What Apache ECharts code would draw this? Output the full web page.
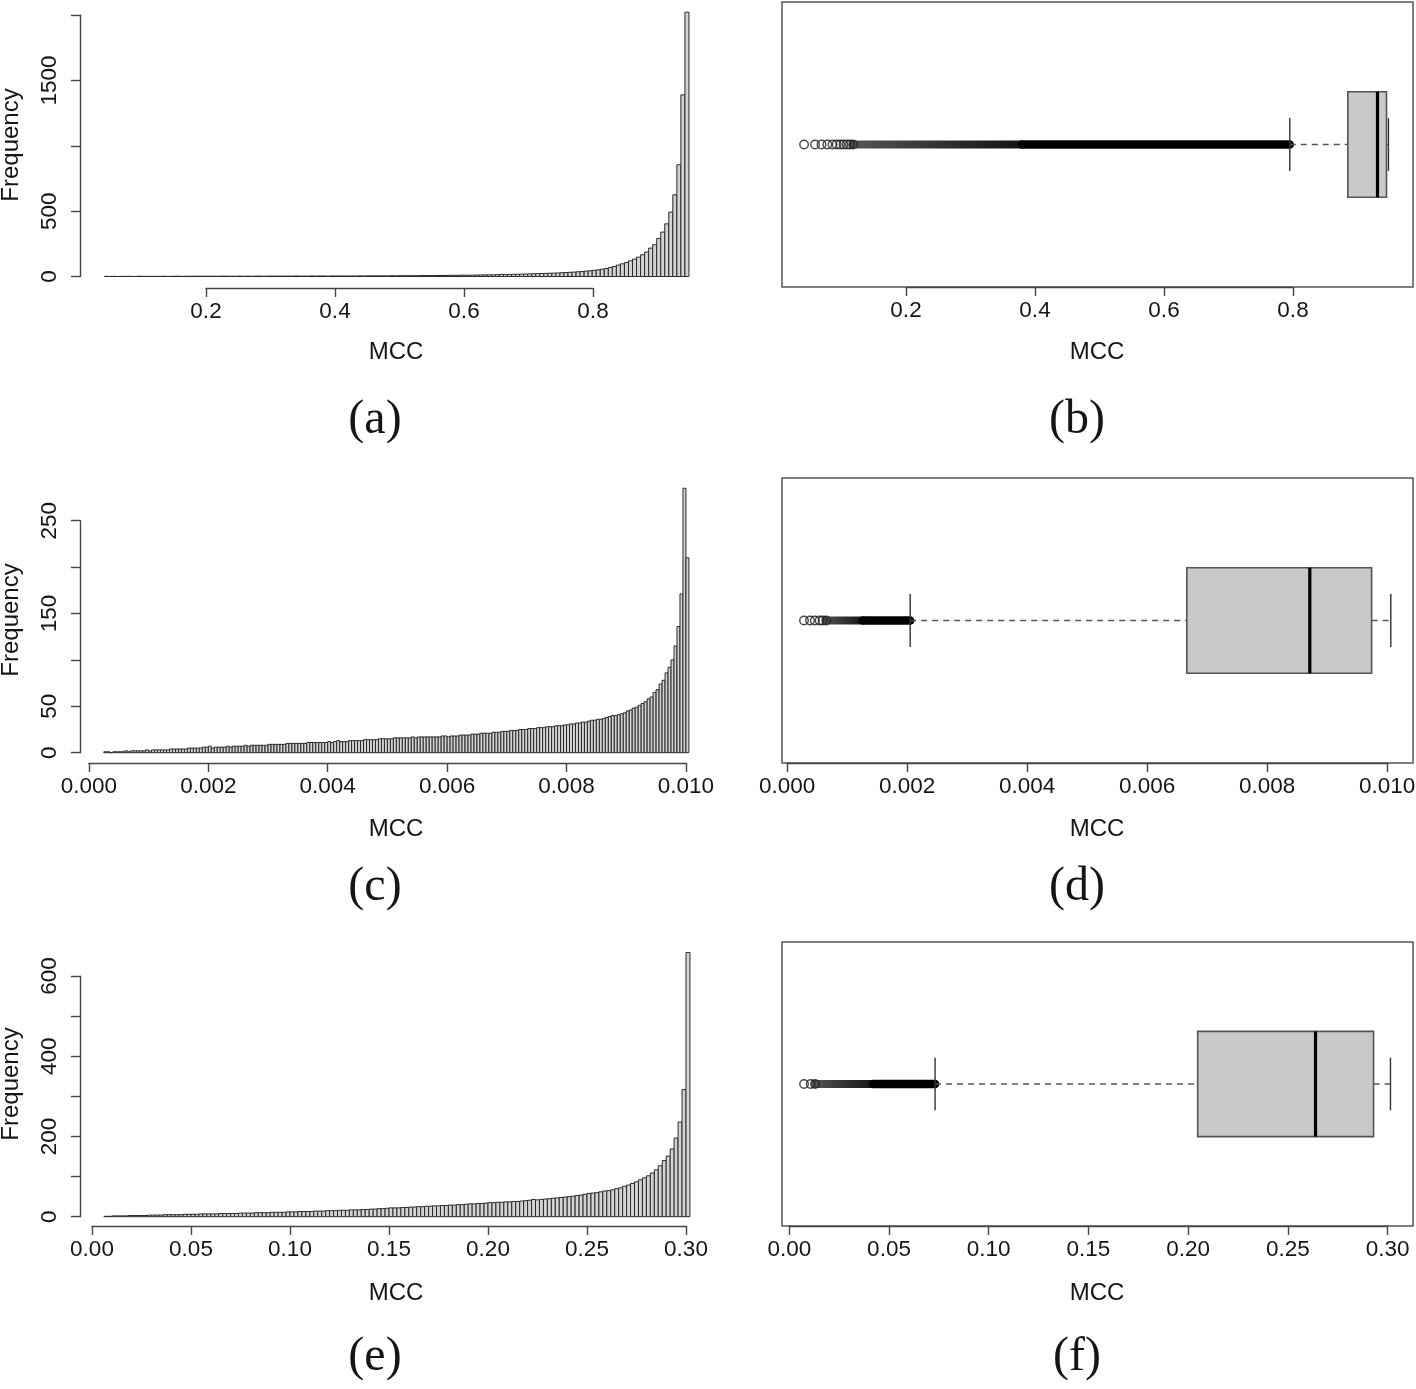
<!DOCTYPE html>
<html><head><meta charset="utf-8">
<script src="https://cdn.jsdelivr.net/npm/echarts@6/dist/echarts.min.js"></script>
<style>html,body{margin:0;padding:0;background:#fff}#c{width:1416px;height:1389px}</style>
</head><body><div id="c"></div>
<script>
// ================= DATA =================
// (a) histogram of MCC
const histA_start = 0.0425;
const histA_binWidth = 0.00625;
const histA_counts = [
 1,0,1,0,1,1,1,0,2,1,1,1,1,
 1,2,1,1,2,2,1,2,2,2,2,2,
 2,2,2,2,3,2,2,2,3,2,3,2,3,3,2,3,
 3,3,3,3,3,3,4,3,3,3,4,3,4,4,3,4,
 4,4,4,4,4,4,5,4,5,5,5,5,5,5,6,5,
 6,6,6,6,6,7,7,7,7,8,8,8,9,9,9,10,
 10,10,11,11,12,12,13,13,14,15,15,16,17,17,18,19,
 20,21,22,23,24,25,26,27,29,30,32,34,36,38,41,44,
 47,51,56,61,69,77,87,97,107,120,133,148,166,187,217,243,291,340,403,493,625,855,1390,2023
];
// (c) histogram
const histC_start = 0.00025;
const histC_binWidth = 0.00005;
const histC_counts = [
 1,1,0,1,1,1,1,2,1,2,2,2,2,2,3,
 2,3,3,3,3,3,3,4,4,4,4,4,4,5,5,5,5,5,6,6,
 7,5,6,6,6,6,7,6,7,7,7,7,8,7,8,8,8,8,8,8,
 9,9,9,9,9,9,10,10,10,10,10,10,10,11,11,11,11,11,11,11,
 12,11,12,13,12,12,12,13,13,13,13,13,14,14,14,14,14,15,15,15,
 15,15,16,16,16,16,16,16,17,16,17,17,17,17,17,17,17,17,18,18,
 17,18,18,18,19,19,19,19,20,20,20,21,21,21,21,22,22,22,23,23,
 23,24,24,24,25,25,25,26,26,26,27,27,27,28,28,28,29,29,29,30,
 30,31,31,32,32,33,33,34,35,35,36,36,37,38,39,40,40,41,42,43,45,
 46,48,49,51,53,55,58,60,65,68,74,78,86,92,100,115,136,171,285,210
];
// (e) histogram
const histE_start = 0.006;
const histE_binWidth = 0.002;
const histE_counts = [
 1,1,2,2,2,2,3,3,3,3,3,4,4,4,4,5,5,5,5,5,6,6,
 6,6,7,7,7,7,7,8,8,8,8,8,9,9,9,9,10,10,10,10,11,11,11,11,12,
 12,12,13,13,13,13,14,14,14,15,15,15,16,16,16,17,17,17,18,18,19,19,20,20,21,
 22,22,22,23,23,24,24,25,25,26,26,27,27,28,28,29,29,30,30,31,32,32,33,33,34,
 35,35,36,36,37,37,38,38,39,40,41,43,42,43,44,45,46,47,48,49,50,51,53,54,56,
 58,59,60,62,64,65,67,70,72,76,79,83,87,92,97,102,109,117,127,140,151,169,196,236,317,659
];

// box plots: [lower whisker, Q1, median, Q3, upper whisker]
const boxB = [0.795, 0.885, 0.931, 0.945, 0.948];
const boxD = [0.00205, 0.00666, 0.00871, 0.00974, 0.01006];
const boxF = [0.0731, 0.2048, 0.2639, 0.2930, 0.3015];
// individually visible outliers
const outliersB = [0.042, 0.059, 0.069, 0.078, 0.086, 0.0925, 0.098, 0.103, 0.108, 0.113, 0.118];
const outliersD = [0.00028, 0.00038, 0.00046, 0.00054, 0.00059, 0.00065];
const outliersF = [0.0074, 0.0107, 0.0129];
// dense outlier run: [start of chain, start of solid run, end (= lower whisker)]
const denseB = [0.118, 0.38, 0.795];
const denseD = [0.00065, 0.00126, 0.00205];
const denseF = [0.0129, 0.042, 0.0731];

// tick values and labels
const xTicksA = [0.2, 0.4, 0.6, 0.8];
const xLabelsA = ['0.2', '0.4', '0.6', '0.8'];
const yTicksA = [0, 500, 1000, 1500, 2000];
const yLabelsA = ['0', '500', '', '1500', ''];
const xTicksC = [0, 0.002, 0.004, 0.006, 0.008, 0.010];
const xLabelsC = ['0.000', '0.002', '0.004', '0.006', '0.008', '0.010'];
const yTicksC = [0, 50, 100, 150, 200, 250];
const yLabelsC = ['0', '50', '', '150', '', '250'];
const xTicksE = [0, 0.05, 0.10, 0.15, 0.20, 0.25, 0.30];
const xLabelsE = ['0.00', '0.05', '0.10', '0.15', '0.20', '0.25', '0.30'];
const yTicksE = [0, 100, 200, 300, 400, 500, 600];
const yLabelsE = ['0', '', '200', '', '400', '', '600'];

const panelLabels = ['(a)', '(b)', '(c)', '(d)', '(e)', '(f)'];
const xName = 'MCC';
const yName = 'Frequency';

// ================= CHART =================
const FONT = '"Liberation Sans", Arial, sans-serif';
const AX = '#444';
const TXT = '#151515';
const grids = [], xAxes = [], yAxes = [], series = [];

function lookup(ticks, labels) {
  return function (v) {
    const i = ticks.findIndex(t => Math.abs(t - v) < 1e-9);
    return i >= 0 ? labels[i] : '';
  };
}
function addGrid(g, xa, ya) {
  grids.push(Object.assign({ show: false, outerBoundsMode: 'none', containLabel: false }, g));
  const idx = grids.length - 1;
  xAxes.push(Object.assign({ type: 'value', gridIndex: idx, show: false, splitLine: { show: false } }, xa));
  yAxes.push(Object.assign({ type: 'value', gridIndex: idx, show: false, splitLine: { show: false } }, ya));
  return idx;
}
function labelStyle(ticks, labels, extra) {
  return Object.assign({ show: true, fontSize: 22.5, fontFamily: FONT, color: TXT, margin: 12,
    showMinLabel: true, showMaxLabel: true, hideOverlap: false,
    formatter: lookup(ticks, labels) }, extra || {});
}
function visAxis(ticks, labels, extra) {
  return Object.assign({
    show: true,
    min: ticks[0], max: ticks[ticks.length - 1], interval: ticks[1] - ticks[0],
    axisLine: { show: true, onZero: false, lineStyle: { color: AX, width: 1.4 } },
    axisTick: { show: true, inside: false, length: 9, lineStyle: { color: AX, width: 1.4 } },
    axisLabel: labelStyle(ticks, labels),
    splitLine: { show: false }
  }, extra || {});
}

function histSeries(gi, start, bw, counts) {
  const data = counts.map((c, i) => [start + i * bw, start + (i + 1) * bw, c]);
  series.push({
    type: 'custom', xAxisIndex: gi, yAxisIndex: gi, data: data, clip: false,
    renderItem: function (params, api) {
      const p0 = api.coord([api.value(0), api.value(2)]);
      const p1 = api.coord([api.value(1), 0]);
      return { type: 'rect',
        shape: { x: p0[0], y: p0[1], width: p1[0] - p0[0], height: p1[1] - p0[1] },
        style: { fill: '#d3d3d3', stroke: '#2a2a2a', lineWidth: 1 } };
    }
  });
}

function histPanel(cfg) {
  const gi = addGrid({ left: cfg.dLeft, width: cfg.dWidth, top: cfg.dTop, height: cfg.dHeight },
    { min: cfg.xMin, max: cfg.xMax }, { min: 0, max: cfg.yMax });
  histSeries(gi, cfg.start, cfg.bw, cfg.counts);
  addGrid({ left: cfg.xaLeft, width: cfg.xaWidth, top: cfg.xaBottom - 40, height: 40 },
    visAxis(cfg.xTicks, cfg.xLabels, { position: 'bottom' }), { min: 0, max: 1 });
  addGrid({ left: cfg.yaLeft, width: 40, top: cfg.yaTop, height: cfg.yaHeight },
    { min: 0, max: 1 },
    visAxis(cfg.yTicks, cfg.yLabels, { position: 'left',
      axisLabel: labelStyle(cfg.yTicks, cfg.yLabels, { margin: 19, rotate: 90 }) }));
}

histPanel({ dLeft: 77, dWidth: 645, dTop: 2.1, dHeight: 274.4, xMin: 0, xMax: 1, yMax: 2100,
  start: histA_start, bw: histA_binWidth, counts: histA_counts,
  xaLeft: 206, xaWidth: 387, xaBottom: 288, xTicks: xTicksA, xLabels: xLabelsA,
  yaLeft: 80, yaTop: 15.2, yaHeight: 261.3, yTicks: yTicksA, yLabels: yLabelsA });
histPanel({ dLeft: 88.9, dWidth: 626.9, dTop: 474.3, dHeight: 278.4, xMin: 0, xMax: 0.0105, yMax: 300,
  start: histC_start, bw: histC_binWidth, counts: histC_counts,
  xaLeft: 88.9, xaWidth: 597, xaBottom: 763, xTicks: xTicksC, xLabels: xLabelsC,
  yaLeft: 80, yaTop: 520.7, yaHeight: 232, yTicks: yTicksC, yLabels: yLabelsC });
histPanel({ dLeft: 92, dWidth: 633.6, dTop: 936, dHeight: 280.7, xMin: 0, xMax: 0.32, yMax: 700,
  start: histE_start, bw: histE_binWidth, counts: histE_counts,
  xaLeft: 92, xaWidth: 594, xaBottom: 1226, xTicks: xTicksE, xLabels: xLabelsE,
  yaLeft: 80, yaTop: 976.1, yaHeight: 240.6, yTicks: yTicksE, yLabels: yLabelsE });

function boxPanel(cfg) {
  const gi = addGrid({ show: true, borderColor: '#555', borderWidth: 1.5, backgroundColor: 'transparent',
      left: 782, width: 631, top: cfg.top, height: cfg.height },
    { min: cfg.xMin, max: cfg.xMax }, { min: 0.46, max: 1.54 });
  // dense run of outliers: overlapping chain, then solid run
  series.push({ type: 'line', xAxisIndex: gi, yAxisIndex: gi, symbol: 'none', z: 2,
    data: [[cfg.dense[0], 1], [cfg.dense[1], 1]],
    lineStyle: { width: 8, cap: 'round',
      color: new echarts.graphic.LinearGradient(0, 0, 1, 0, [
        { offset: 0, color: '#555' }, { offset: 1, color: '#111' }]) } });
  series.push({ type: 'line', xAxisIndex: gi, yAxisIndex: gi, symbol: 'none', z: 2,
    data: [[cfg.dense[1], 1], [cfg.dense[2], 1]],
    lineStyle: { color: '#000', width: 8.5, cap: 'round' } });
  // individual outliers
  series.push({ type: 'scatter', xAxisIndex: gi, yAxisIndex: gi, symbol: 'circle', symbolSize: 8.5, z: 3,
    data: cfg.outliers.map(v => [v, 1]),
    itemStyle: { color: 'rgba(0,0,0,0)', borderColor: '#1a1a1a', borderWidth: 1.4 } });
  // box
  series.push({ type: 'custom', xAxisIndex: gi, yAxisIndex: gi, z: 4, data: [cfg.box],
    renderItem: function (params, api) {
      const lo = api.value(0), q1 = api.value(1), md = api.value(2), q3 = api.value(3), hi = api.value(4);
      const X = v => api.coord([v, 1])[0];
      const Y = t => api.coord([lo, t])[1];
      const yc = Y(1);
      const dash = { stroke: '#555', lineWidth: 1.4, lineDash: [6, 5] };
      const solid = { stroke: '#333', lineWidth: 1.4 };
      return { type: 'group', children: [
        { type: 'line', shape: { x1: X(lo), y1: yc, x2: X(q1), y2: yc }, style: dash },
        { type: 'line', shape: { x1: X(q3), y1: yc, x2: X(hi), y2: yc }, style: dash },
        { type: 'line', shape: { x1: X(lo), y1: Y(1.1), x2: X(lo), y2: Y(0.9) }, style: solid },
        { type: 'line', shape: { x1: X(hi), y1: Y(1.1), x2: X(hi), y2: Y(0.9) }, style: solid },
        { type: 'rect', shape: { x: X(q1), y: Y(1.2), width: X(q3) - X(q1), height: Y(0.8) - Y(1.2) },
          style: { fill: '#c9c9c9', stroke: '#555', lineWidth: 1.6 } },
        { type: 'line', shape: { x1: X(md), y1: Y(1.2), x2: X(md), y2: Y(0.8) }, style: { stroke: '#000', lineWidth: 3.2 } }
      ] };
    } });
  addGrid({ left: cfg.xaLeft, width: cfg.xaWidth, top: cfg.top + cfg.height - 40, height: 40 },
    visAxis(cfg.xTicks, cfg.xLabels, { position: 'bottom' }), { min: 0, max: 1 });
}
boxPanel({ top: 2, height: 285, xMin: 0.00775, xMax: 0.98605, box: boxB, outliers: outliersB, dense: denseB,
  xaLeft: 906, xaWidth: 387, xTicks: xTicksA, xLabels: xLabelsA });
boxPanel({ top: 478, height: 285, xMin: -0.0000867, xMax: 0.01043, box: boxD, outliers: outliersD, dense: denseD,
  xaLeft: 787.2, xaWidth: 600, xTicks: xTicksC, xLabels: xLabelsC });
boxPanel({ top: 942, height: 284, xMin: -0.00366, xMax: 0.31279, box: boxF, outliers: outliersF, dense: denseF,
  xaLeft: 789.3, xaWidth: 598.3, xTicks: xTicksE, xLabels: xLabelsE });

// texts
const graphics = [];
function txt(x, y, s, font, rot) {
  graphics.push({ type: 'text', x: x, y: y, rotation: rot || 0,
    style: { text: s, font: font, fill: TXT, align: 'center', verticalAlign: 'middle' } });
}
const axFont = '24px ' + FONT;
const labFont = '48px "Liberation Serif", "DejaVu Serif", serif';
const rowsY = [{ mcc: 352, freq: 145, lab: 420 }, { mcc: 829, freq: 620, lab: 887 }, { mcc: 1293, freq: 1084, lab: 1357 }];
rowsY.forEach((r, i) => {
  txt(396, r.mcc, xName, axFont);
  txt(1097, r.mcc, xName, axFont);
  txt(11, r.freq, yName, axFont, Math.PI / 2);
  txt(375, r.lab, panelLabels[2 * i], labFont);
  txt(1077, r.lab, panelLabels[2 * i + 1], labFont);
});

const chart = echarts.init(document.getElementById('c'), null, { renderer: 'canvas' });
chart.setOption({
  animation: false,
  backgroundColor: '#fff',
  grid: grids, xAxis: xAxes, yAxis: yAxes, series: series, graphic: graphics
});
</script>
</body></html>
